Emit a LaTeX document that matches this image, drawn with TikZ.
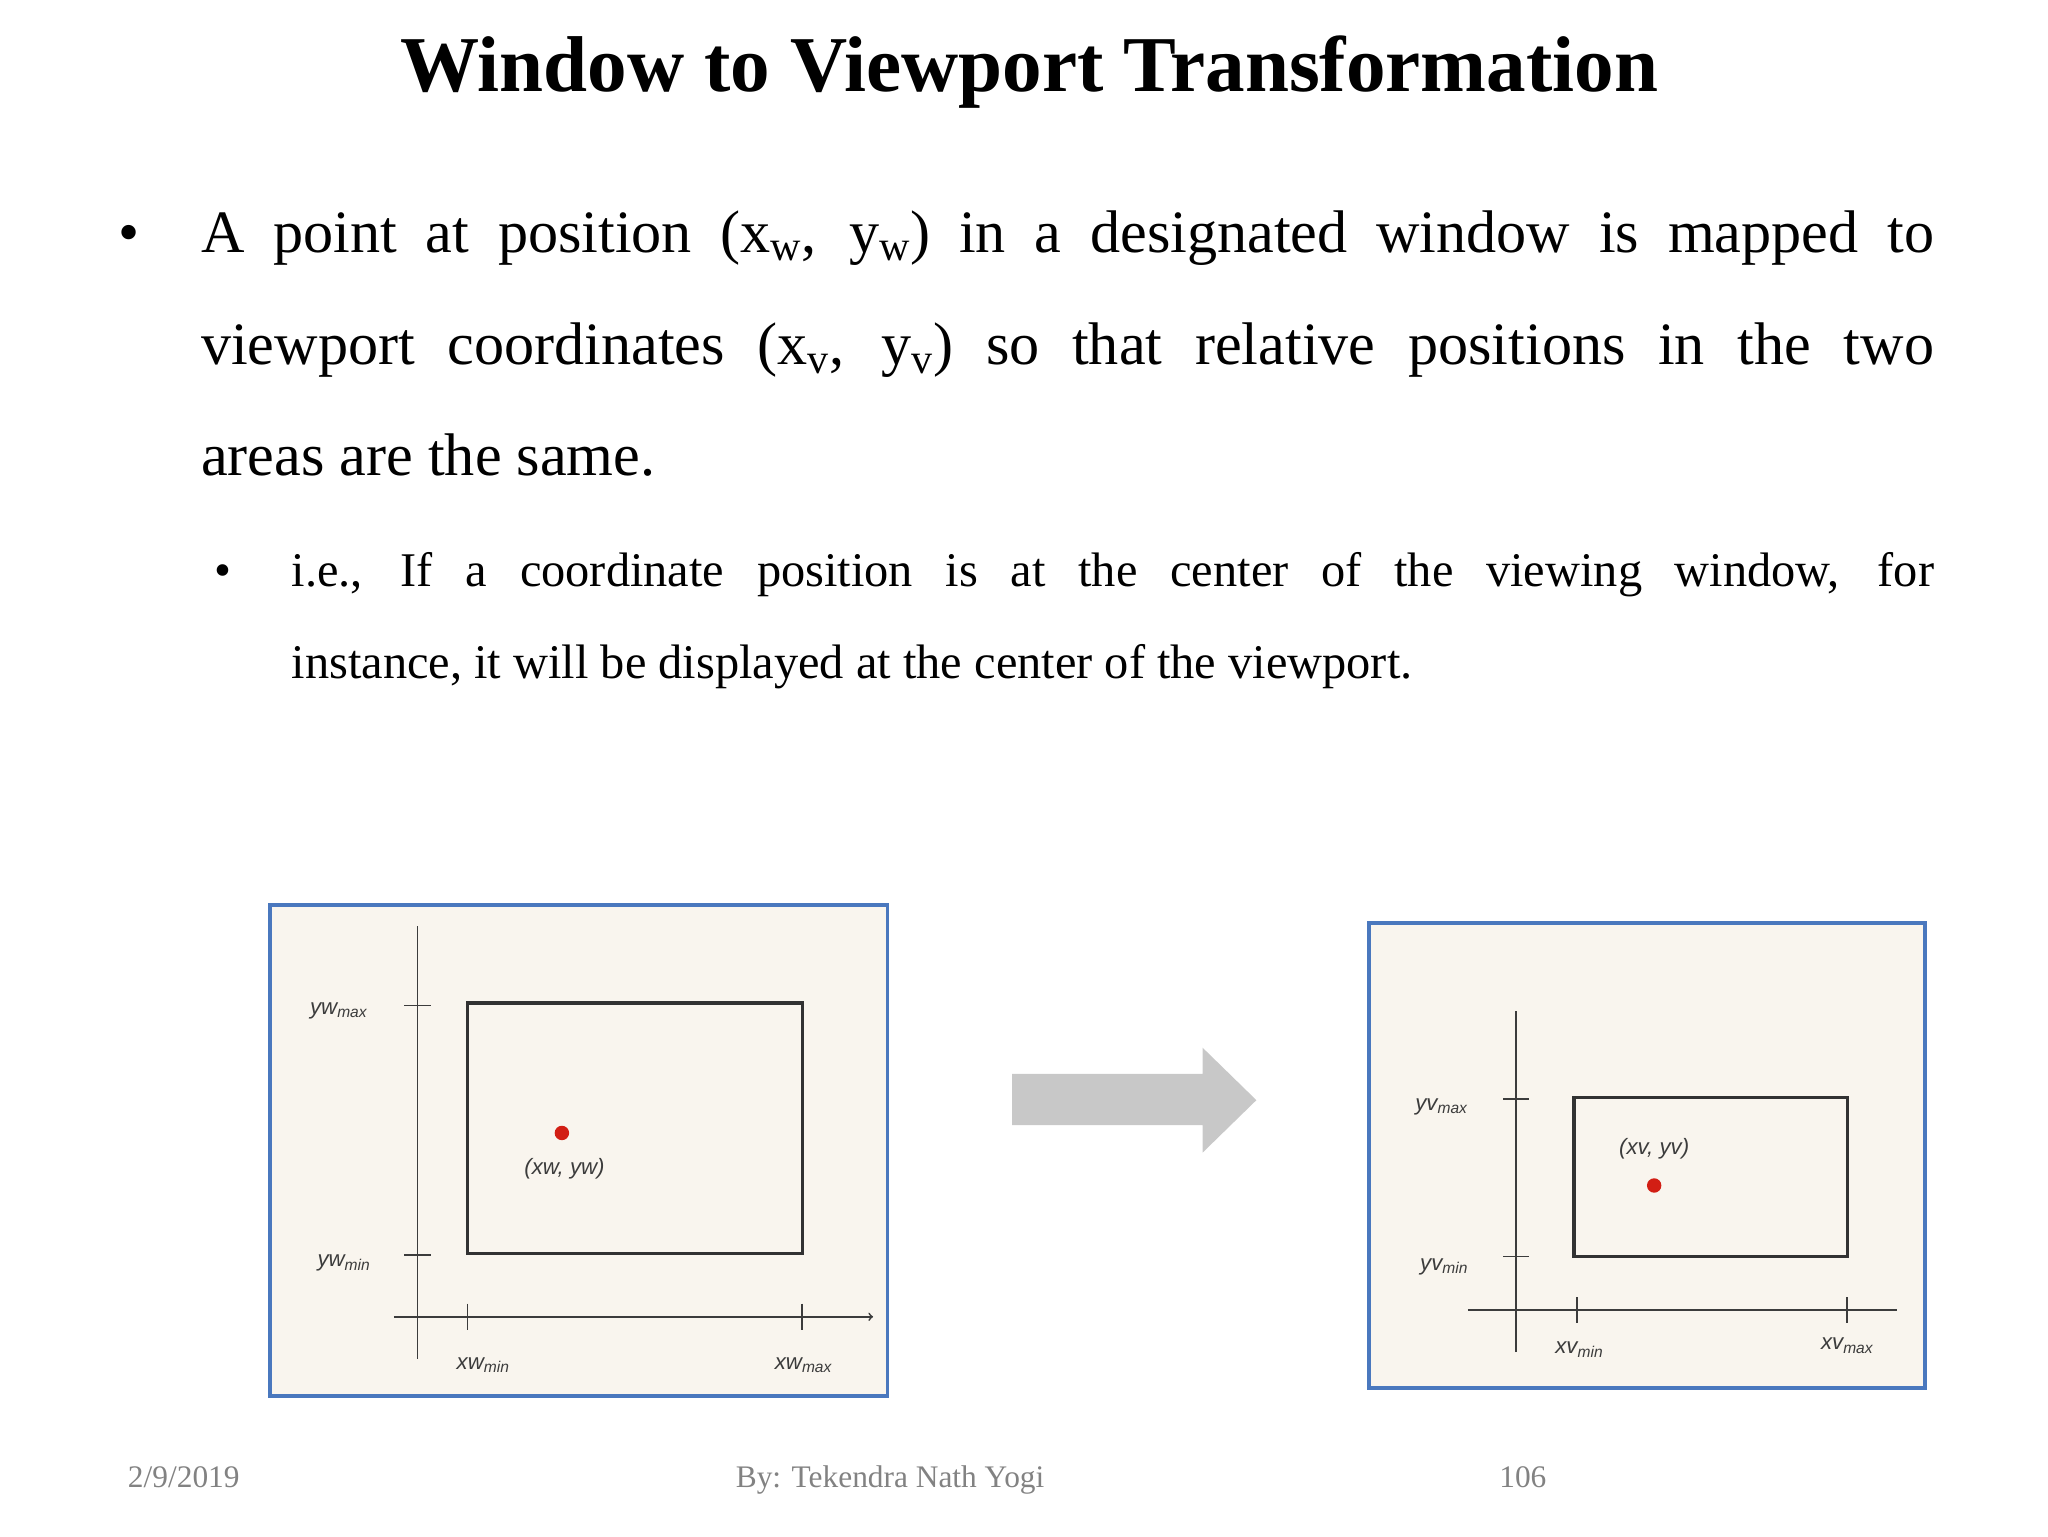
\documentclass[tikz,border=0pt]{standalone}
\usepackage{fontspec}
\setmainfont{Liberation Serif}
\newfontfamily\lblfont{Liberation Sans}
\definecolor{pblue}{RGB}{74,120,190}
\definecolor{pcream}{RGB}{249,245,238}
\definecolor{axg}{RGB}{60,60,60}
\definecolor{wing}{RGB}{50,50,50}
\definecolor{dotred}{RGB}{210,30,20}
\definecolor{footg}{RGB}{130,130,130}
\definecolor{arrg}{RGB}{200,200,200}
\begin{document}
\begin{tikzpicture}[x=1bp,y=-1bp,
  panel/.style={draw=pblue,line width=3bp,fill=pcream},
  ax/.style={draw=axg,line width=1.3bp},
  win/.style={draw=wing,line width=2.5bp},
  lbl/.style={font=\lblfont\itshape\fontsize{17}{19}\selectfont,text=axg,inner sep=0},
  dot/.style={circle,fill=dotred,inner sep=0,minimum size=11bp},
  bigl/.style={inner sep=0,anchor=base west,font=\fontsize{46}{50}\selectfont},
  smll/.style={inner sep=0,anchor=base west,font=\fontsize{37}{40}\selectfont},
  foot/.style={font=\fontsize{24}{28}\selectfont,text=footg,inner sep=0}]
\useasboundingbox (0,0) rectangle (1560,1170);
\node[inner sep=0,font=\bfseries\fontsize{60.5}{64}\selectfont] (title) at (784,55) {Window to Viewport Transformation};
\node[bigl] (b1) at (90,192) {•};
\node[bigl] (a1) at (153,192) {\makebox[1320bp][s]{A point at position (x\textsubscript{w}, y\textsubscript{w}) in a designated window is mapped to}};
\node[bigl] (a2) at (153,278) {\makebox[1320bp][s]{viewport coordinates (x\textsubscript{v}, y\textsubscript{v}) so that relative positions in the two}};
\node[bigl] (a3) at (153,362) {areas are the same.};
\node[smll] (b2) at (163,447) {•};
\node[smll] (c1) at (222,447) {\makebox[1251bp][s]{i.e., If a coordinate position is at the center of the viewing window, for}};
\node[smll] (c2) at (222,517) {instance, it will be displayed at the center of the viewport.};
% left panel
\draw[panel] (206,689) rectangle (676,1063);
\draw[ax] (318,1035) -- (318,705);
\draw[ax,->] (300,1003) -- (665,1003);
\draw[win] (356,764) rectangle (611,955);
\draw[ax] (308,766) -- (328,766) (308,956) -- (328,956) (356,993) -- (356,1013) (611,993) -- (611,1013);
\node[dot] (d1) at (428,863) {};
\node[lbl] (l1) at (430,890) {(xw, yw)};
\node[lbl] (l2) at (258,770) {yw\textsubscript{max}};
\node[lbl] (l3) at (262,962) {yw\textsubscript{min}};
\node[lbl] (l4) at (368,1040) {xw\textsubscript{min}};
\node[lbl] (l5) at (612,1040) {xw\textsubscript{max}};
% arrow
\fill[arrg] (771,818) -- (916,818) -- (916,798) -- (957,838) -- (916,878) -- (916,857) -- (771,857) -- cycle;
% right panel
\draw[panel] (1043,703) rectangle (1466,1057);
\draw[ax] (1155,1030) -- (1155,770);
\draw[ax] (1118,998) -- (1445,998);
\draw[win] (1199,836) rectangle (1407,957);
\draw[ax] (1145,837) -- (1165,837) (1145,957) -- (1165,957) (1201,988) -- (1201,1008) (1407,988) -- (1407,1008);
\node[dot] (d2) at (1260,903) {};
\node[lbl] (r1) at (1260,875) {(xv, yv)};
\node[lbl] (r2) at (1098,843) {yv\textsubscript{max}};
\node[lbl] (r3) at (1100,965) {yv\textsubscript{min}};
\node[lbl] (r4) at (1203,1028) {xv\textsubscript{min}};
\node[lbl] (r5) at (1407,1025) {xv\textsubscript{max}};
% footer
\node[foot,anchor=base] (f1) at (140,1133) {2/9/2019};
\node[foot,anchor=base] (f2) at (678,1133) {By: Tekendra Nath Yogi};
\node[foot,anchor=base] (f3) at (1160,1133) {106};
\end{tikzpicture}
\end{document}
